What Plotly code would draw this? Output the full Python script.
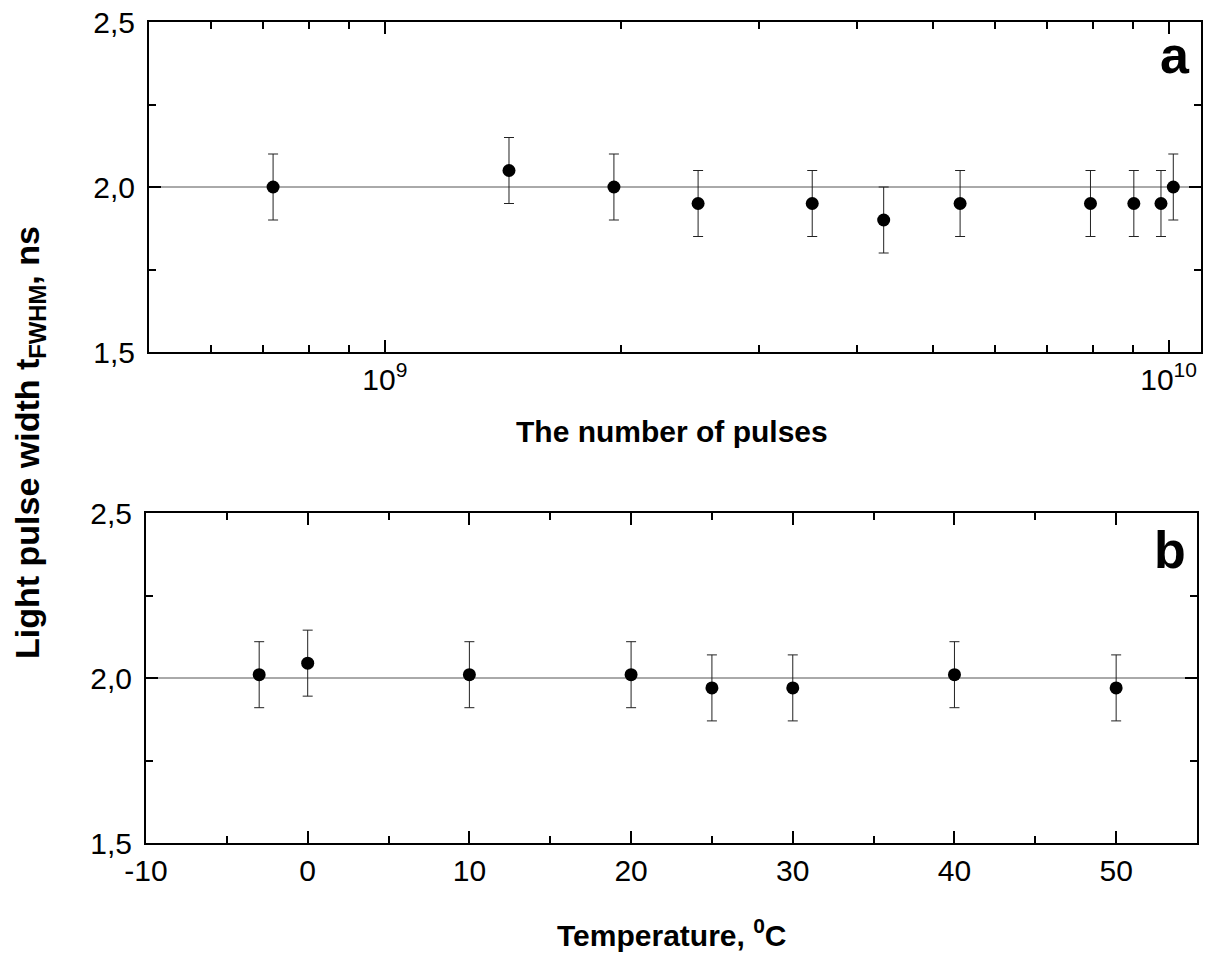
import plotly.graph_objects as go

# ---- data ----
pulses = [7.2e8, 1.44e9, 1.96e9, 2.51e9, 3.51e9, 4.33e9, 5.42e9, 7.95e9, 9.03e9, 9.78e9, 1.014e10]
width_a = [2.00, 2.05, 2.00, 1.95, 1.95, 1.90, 1.95, 1.95, 1.95, 1.95, 2.00]
err_a = [0.1] * 11

temperature = [-3, 0, 10, 20, 25, 30, 40, 50]
width_b = [2.01, 2.045, 2.01, 2.01, 1.97, 1.97, 2.01, 1.97]
err_b = [0.1] * 8

ref_level = 2.0
pulse_major = [1e9, 1e10]
pulse_major_text = ["10<sup>9</sup>", "10<sup>10</sup>"]
pulse_minor = [6e8, 7e8, 8e8, 9e8, 2e9, 3e9, 4e9, 5e9, 6e9, 7e9, 8e9, 9e9]
temp_ticks = [-10, 0, 10, 20, 30, 40, 50]
temp_tick_text = ["-10", "0", "10", "20", "30", "40", "50"]
temp_minor = [-5, 5, 15, 25, 35, 45, 55]
width_ticks = [1.5, 2.0, 2.5]
width_minor = [1.75, 2.25]

W, H = 1211, 960
FONT = "Liberation Sans, Arial, sans-serif"

def px_x(p):
    return p / W

def px_y(p):
    return 1 - p / H

fig = go.Figure()

marker = dict(color="black", size=13)
err_style = dict(type="data", thickness=1, width=5, color="#222")

fig.add_trace(go.Scatter(
    x=pulses, y=width_a, mode="markers", marker=marker,
    error_y=dict(array=err_a, **err_style), xaxis="x", yaxis="y", showlegend=False))
fig.add_trace(go.Scatter(
    x=temperature, y=width_b, mode="markers", marker=marker,
    error_y=dict(array=err_b, **err_style), xaxis="x2", yaxis="y2", showlegend=False))

axis_common = dict(
    showline=True, linecolor="black", linewidth=2, mirror="ticks",
    ticks="inside", ticklen=12, tickwidth=2, tickcolor="black",
    showgrid=False, zeroline=False, automargin=False,
    ticklabeloverflow="allow",
    tickfont=dict(family=FONT, size=30, color="black"),
)
minor_common = dict(ticks="inside", ticklen=7, tickwidth=2, tickcolor="black", showgrid=False)

fig.update_layout(
    template="none",
    width=W, height=H,
    margin=dict(l=0, r=0, t=0, b=0),
    paper_bgcolor="white", plot_bgcolor="white",
    separators=", ",
    showlegend=False,
    xaxis=dict(
        type="log", domain=[px_x(149), px_x(1201)],
        range=[8.699, 10.0414], anchor="y",
        tickmode="array", tickvals=pulse_major, ticktext=pulse_major_text,
        minor=dict(tickmode="array", tickvals=pulse_minor, **minor_common),
        **axis_common),
    yaxis=dict(
        domain=[px_y(352), px_y(22)], range=[1.5, 2.5], anchor="x",
        tickmode="array", tickvals=width_ticks, tickformat=".1f",
        ticklabelstandoff=6,
        minor=dict(tickmode="array", tickvals=width_minor, **minor_common),
        **axis_common),
    xaxis2=dict(
        domain=[px_x(146), px_x(1197)], range=[-10, 55], anchor="y2",
        tickmode="array", tickvals=temp_ticks, ticktext=temp_tick_text,
        minor=dict(tickmode="array", tickvals=temp_minor, **minor_common),
        **axis_common),
    yaxis2=dict(
        domain=[px_y(843), px_y(513)], range=[1.5, 2.5], anchor="x2",
        tickmode="array", tickvals=width_ticks, tickformat=".1f",
        ticklabelstandoff=6,
        minor=dict(tickmode="array", tickvals=width_minor, **minor_common),
        **axis_common),
)

# reference lines at 2.0
for xr, yr in (("x domain", "y"), ("x2 domain", "y2")):
    fig.add_shape(type="line", xref=xr, yref=yr, x0=0, x1=1, y0=ref_level, y1=ref_level,
                  line=dict(color="#555", width=1), layer="below")

title_font = dict(family=FONT, size=30, color="black")
fig.add_annotation(text="<b>The number of pulses</b>", xref="paper", yref="paper",
                   x=px_x(672), y=px_y(432), showarrow=False, font=title_font,
                   xanchor="center", yanchor="middle")
fig.add_annotation(text="<b>Temperature, <sup>0</sup>C</b>", xref="paper", yref="paper",
                   x=px_x(672), y=px_y(933), showarrow=False, font=title_font,
                   xanchor="center", yanchor="middle")
fig.add_annotation(text="<b>Light pulse width t<sub>FWHM</sub>, ns</b>", xref="paper", yref="paper",
                   x=px_x(29), y=px_y(443), showarrow=False,
                   font=dict(family=FONT, size=34, color="black"), textangle=-90,
                   xanchor="center", yanchor="middle")

label_font = dict(family=FONT, size=52, color="black")
fig.add_annotation(text="<b>a</b>", xref="paper", yref="paper",
                   x=px_x(1192), y=px_y(55), showarrow=False, font=label_font,
                   xanchor="right", yanchor="middle")
fig.add_annotation(text="<b>b</b>", xref="paper", yref="paper",
                   x=px_x(1188), y=px_y(550), showarrow=False, font=label_font,
                   xanchor="right", yanchor="middle")

fig.write_html("out.html",
               config={"displayModeBar": False},
               post_script="document.body.style.margin='0';document.body.style.overflow='hidden';")
